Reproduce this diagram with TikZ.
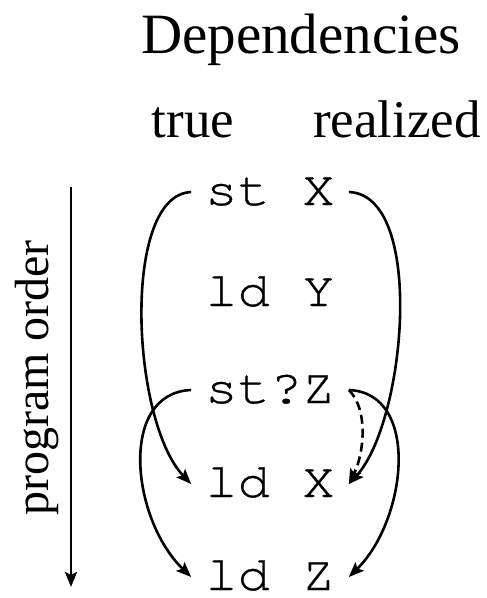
\documentclass[tikz,border=0pt]{standalone}
\usepackage{fontspec}
\setmainfont{Liberation Serif}
\newfontfamily\codefont[Extension=.otf,UprightFont=*-regular,FakeStretch=1.1,FakeBold=0.6]{texgyrecursor}
\usetikzlibrary{arrows.meta}

\begin{document}
\begin{tikzpicture}[x=1pt,y=-1pt,heading/.style={font=\fontsize{53}{60}\selectfont,inner sep=0pt,anchor=base},instr/.style={font=\codefont\fontsize{49}{50}\selectfont,inner xsep=14pt,inner ysep=0pt,text height=26pt,text depth=0pt},dep/.style={-{Stealth[length=15pt,width=12pt,inset=3pt]},line width=2.6pt}]
\useasboundingbox (0,0) rectangle (487,598);
\node[heading,font=\fontsize{57}{62}\selectfont] (title) at (301,53) {Dependencies};
\node[heading] (true) at (193,137) {true};
\node[heading] (real) at (397,137) {realized};
\node[font=\fontsize{48}{52}\selectfont,rotate=90,inner sep=0pt] (po) at (37,378) {program order};
\coordinate (potop) at (71,187);
\coordinate (pobot) at (71,587);
\node[instr] (stX) at (270,192) {st X};
\node[instr] (ldY) at (270,293) {ld Y};
\node[instr] (stZ) at (270,390) {st?Z};
\node[instr] (ldX) at (270,484) {ld X};
\node[instr] (ldZ) at (270,577) {ld Z};
\draw[dep] (potop) -- (pobot);
% true dependencies
\draw[dep] (stX.west) .. controls +(-70,3) and +(-60,-63) .. (ldX.west);
\draw[dep] (stZ.west) .. controls +(-73,3) and +(-60,-58) .. (ldZ.west);
% realized dependencies
\draw[dep] (stX.east) .. controls +(77,3) and +(57,-62) .. (ldX.east);
\draw[dep] (stZ.east) .. controls +(72,3) and +(58,-57) .. (ldZ.east);
\draw[dep,dash pattern=on 9pt off 5pt] (stZ.east) .. controls +(20,20) and +(15,-30) .. (ldX.east);
\end{tikzpicture}
\end{document}
